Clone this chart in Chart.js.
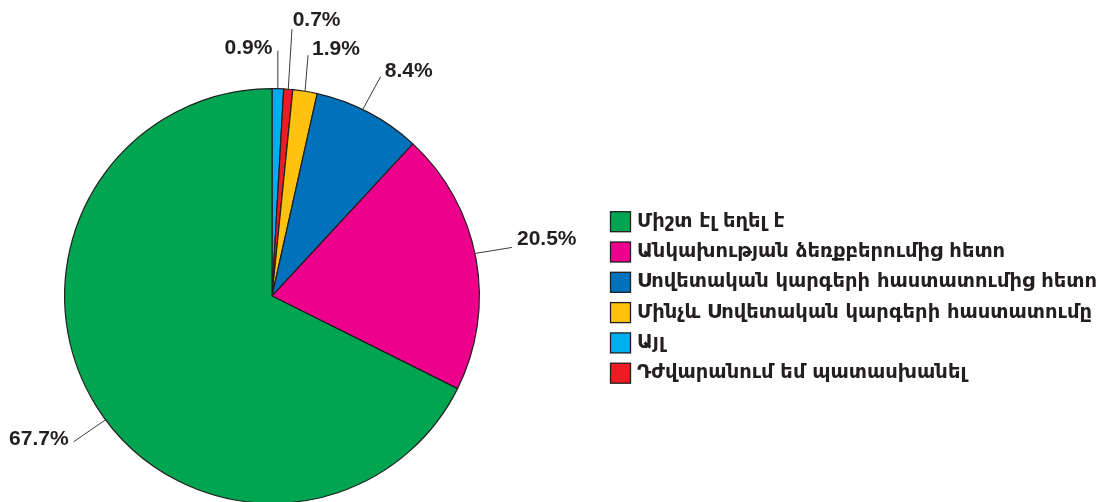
<!DOCTYPE html>
<html>
<head>
<meta charset="utf-8">
<script src="https://cdn.jsdelivr.net/npm/chart.js@4/dist/chart.umd.min.js"></script>
<style>
html,body{margin:0;padding:0;background:#fff;overflow:hidden;}
canvas{display:block;}
</style>
</head>
<body>
<canvas id="c" width="1102" height="510"></canvas>
<script>
// Categories in legend order
const categories = [
  "Միշտ էլ եղել է",
  "Անկախության ձեռքբերումից հետո",
  "Սովետական կարգերի հաստատումից հետո",
  "Մինչև Սովետական կարգերի հաստատումը",
  "Այլ",
  "Դժվարանում եմ պատասխանել"
];
const values = [67.7, 20.5, 8.4, 1.9, 0.9, 0.7];
const valueLabels = ["67.7%", "20.5%", "8.4%", "1.9%", "0.9%", "0.7%"];
const colors = ["#00A551", "#EC008C", "#0072BC", "#FFC20E", "#00AEEF", "#ED1C24"];
// slice order clockwise from 12 o'clock (indices into the arrays above)
const pieOrder = [4, 5, 3, 2, 1, 0];

// label leader-line styling per category (legend order)
const labelStyle = [
  {shift: -4.9, end: [-32, 22], align: "right", txt: [-5, -4.5]},
  {shift: -1.5, end: [37, -6], align: "left", txt: [5, -10]},
  {shift: -1.75, end: [18, -33], align: "left", txt: [4, -7]},
  {shift: 0, end: [3, -36], align: "left", txt: [4, -8]},
  {shift: 0, end: [0, -38], align: "right", txt: [-5.5, -4]},
  {shift: 0, end: [3.7, -60], align: "left", txt: [0.7, -10.5]}
];

const dark = "#231F20";

const labelsPlugin = {
  id: "pieLabels",
  afterDraw(chart) {
    const ctx = chart.ctx;
    const meta = chart.getDatasetMeta(0);
    ctx.save();
    meta.data.forEach((arc, i) => {
      const cat = pieOrder[i];
      const st = labelStyle[cat];
      const p = arc.getProps(["x", "y", "startAngle", "endAngle", "outerRadius"], true);
      const a = (p.startAngle + p.endAngle) / 2 + st.shift * Math.PI / 180;
      const r = p.outerRadius;
      const sx = p.x + r * Math.cos(a), sy = p.y + r * Math.sin(a);
      const ex = sx + st.end[0], ey = sy + st.end[1];
      ctx.strokeStyle = "#3a3a3a";
      ctx.lineWidth = 1;
      ctx.beginPath();
      ctx.moveTo(sx, sy);
      ctx.lineTo(ex, ey);
      ctx.stroke();
      ctx.fillStyle = dark;
      ctx.font = "bold 21px 'Liberation Sans', Arial, sans-serif";
      ctx.textAlign = st.align;
      ctx.textBaseline = "alphabetic";
      ctx.fillText(valueLabels[cat], ex + st.txt[0], ey + st.txt[1] + 7.5);
    });
    // legend
    const lx = 610.5, ly = 211.7, step = 30.3, box = 20;
    ctx.textAlign = "left";
    ctx.textBaseline = "middle";
    ctx.font = "bold 19.5px 'DejaVu Sans', sans-serif";
    categories.forEach((c, i) => {
      const y = ly + i * step;
      ctx.fillStyle = colors[i];
      ctx.fillRect(lx, y, box, box);
      ctx.strokeStyle = dark;
      ctx.lineWidth = 1.3;
      ctx.strokeRect(lx, y, box, box);
      ctx.fillStyle = dark;
      ctx.fillText(c, 637, y + box / 2);
    });
    ctx.restore();
  }
};

new Chart(document.getElementById("c"), {
  type: "pie",
  data: {
    labels: pieOrder.map(i => categories[i]),
    datasets: [{
      data: pieOrder.map(i => values[i]),
      backgroundColor: pieOrder.map(i => colors[i]),
      borderColor: dark,
      borderWidth: 1.2,
      hoverOffset: 0
    }]
  },
  options: {
    responsive: false,
    animation: false,
    layout: {padding: {left: 64, right: 622, top: 88, bottom: 6}},
    plugins: {
      legend: {display: false},
      tooltip: {enabled: false}
    }
  },
  plugins: [labelsPlugin]
});
</script>
</body>
</html>
